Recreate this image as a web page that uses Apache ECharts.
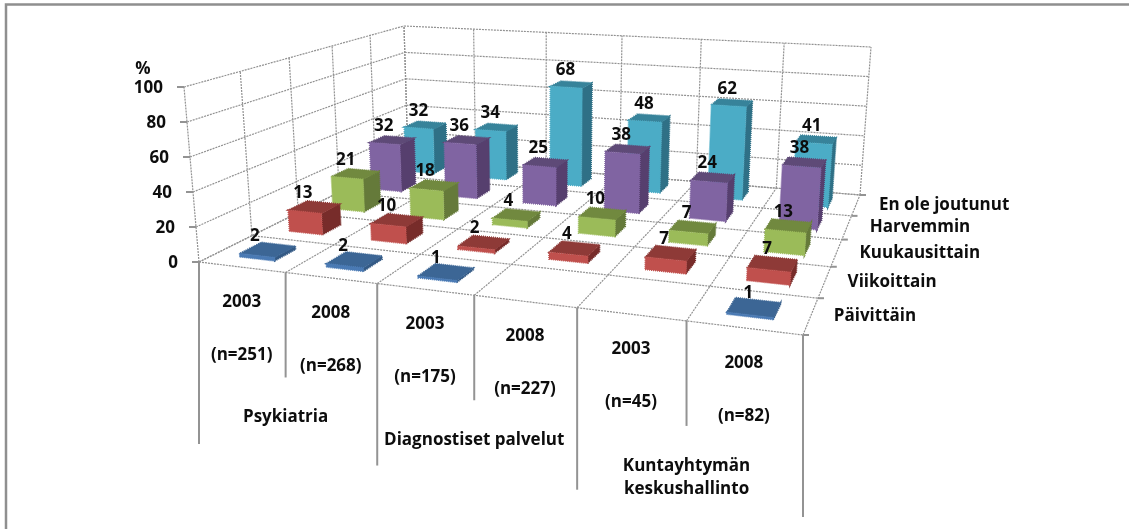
<!DOCTYPE html>
<html>
<head>
<meta charset="utf-8">
<style>html,body{margin:0;padding:0;background:#fff}#c{width:1129px;height:529px}</style>
<script src="https://cdn.jsdelivr.net/npm/echarts@6/dist/echarts.min.js"></script>
</head>
<body>
<div id="c"></div>
<script>
// Chart data: rows run front to back, columns left to right.
const rowNames = ['Päivittäin', 'Viikoittain', 'Kuukausittain', 'Harvemmin', 'En ole joutunut'];
const years = ['2003', '2008', '2003', '2008', '2003', '2008'];
const sampleSizes = ['(n=251)', '(n=268)', '(n=175)', '(n=227)', '(n=45)', '(n=82)'];
const departments = [['Psykiatria'], ['Diagnostiset palvelut'], ['Kuntayhtymän', 'keskushallinto']];
const valueTicks = [0, 20, 40, 60, 80, 100];
const paivittain = [2, 2, 1, null, null, 1];
const viikoittain = [13, 10, 2, 4, 7, 7];
const kuukausittain = [21, 18, 4, 10, 7, 13];
const harvemmin = [32, 36, 25, 38, 24, 38];
const enOleJoutunut = [32, 34, 68, 48, 62, 41];
const rowValues = [paivittain, viikoittain, kuukausittain, harvemmin, enOleJoutunut];

// Face colours for each row: front, top, right side.
const faces = [
  ['#4a7ab4', '#3c6695', '#345a85'],
  ['#c0504d', '#8e3a37', '#772c2a'],
  ['#9bbb59', '#71893f', '#657a3a'],
  ['#8064a2', '#5e4a77', '#563f6e'],
  ['#4bacc6', '#37839a', '#2f7086']
];

const COLS = years.length, ROWS = rowNames.length, YMAX = 100;
const BAR_W = 0.41, BAR_D = 0.42;
const GRID = { left: 0, top: 0, width: 600, height: 400 };

// Perspective box: corner positions of the floor and ceiling planes.
function quad(p0, p1, p2, p3) {
  const dx1 = p1[0] - p2[0], dx2 = p3[0] - p2[0], sx = p0[0] - p1[0] + p2[0] - p3[0];
  const dy1 = p1[1] - p2[1], dy2 = p3[1] - p2[1], sy = p0[1] - p1[1] + p2[1] - p3[1];
  const den = dx1 * dy2 - dx2 * dy1;
  const g = (sx * dy2 - dx2 * sy) / den, h = (dx1 * sy - sx * dy1) / den;
  const a = p1[0] - p0[0] + g * p1[0], b = p3[0] - p0[0] + h * p3[0];
  const d = p1[1] - p0[1] + g * p1[1], e = p3[1] - p0[1] + h * p3[1];
  return (u, v) => {
    const q = g * u + h * v + 1;
    return [(a * u + b * v + p0[0]) / q, (d * u + e * v + p0[1]) / q];
  };
}
const floorPlane = quad([199, 262], [803, 335], [860, 195], [408, 158]);
const ceilPlane = quad([184, 87], [816, 130], [871, 47], [404, 26]);
function project(u, v, w) {
  const a = floorPlane(u, v), b = ceilPlane(u, v);
  return [a[0] + (b[0] - a[0]) * w, a[1] + (b[1] - a[1]) * w];
}
// The hidden cartesian axes supply the column and value scales.
function scaled(api, col, value) {
  const c = api.coord([col, value]);
  return [(c[0] - GRID.left) / GRID.width, (GRID.top + GRID.height - c[1]) / GRID.height];
}

const FONT = 'bold 17px "Open Sans"';
const GRIDLINE = { stroke: '#929292', lineWidth: 1.2, lineDash: [2, 1], fill: null };
const AXISLINE = { stroke: '#939393', lineWidth: 2, fill: null };

function line(a, b, style) {
  return { type: 'line', shape: { x1: a[0], y1: a[1], x2: b[0], y2: b[1] }, style };
}
function text(str, x, y, align) {
  return { type: 'text', style: { text: str, x, y, font: FONT, fill: '#0d0d0d', align: align || 'center', verticalAlign: 'middle' } };
}

function renderFrame(params, api) {
  const kids = [];
  // Left and back walls: value gridlines.
  valueTicks.forEach(t => {
    const w = scaled(api, 0, t)[1];
    kids.push(line(project(0, 0, w), project(0, 1, w), GRIDLINE));
    kids.push(line(project(0, 1, w), project(1, 1, w), GRIDLINE));
    const e = project(0, 0, w);
    kids.push(line([e[0] - 7, e[1]], e, AXISLINE));
    kids.push(text(String(t), e[0] - 21, e[1] + 1, 'right'));
  });
  const top = project(0, 0, 1);
  kids.push(text('%', top[0] - 41, top[1] - 18));
  // Uprights on the left wall and the floor's depth divisions.
  for (let r = 0; r <= ROWS; r++) {
    const v = r / ROWS;
    kids.push(line(project(0, v, 0), project(0, v, 1), GRIDLINE));
    kids.push(line(project(0, v, 0), project(1, v, 0), GRIDLINE));
    const e = project(1, v, 0);
    kids.push(line(e, [e[0] + 6, e[1]], AXISLINE));
    if (r < ROWS) {
      const m = project(1, (r + 0.5) / ROWS, 0);
      kids.push(text(rowNames[r], m[0] + 23, m[1], 'left'));
    }
  }
  // Uprights on the back wall, floor columns, and the category dividers.
  for (let c = 0; c <= COLS; c++) {
    const u = scaled(api, c, 0)[0];
    kids.push(line(project(u, 1, 0), project(u, 1, 1), GRIDLINE));
    kids.push(line(project(u, 0, 0), project(u, 1, 0), GRIDLINE));
    const e = project(u, 0, 0);
    kids.push(line(e, [e[0], e[1] + (c % 2 ? 105 : 182)], AXISLINE));
  }
  // Multi-level category labels under the front edge.
  years.forEach((y, c) => {
    const e = project(scaled(api, c + 0.5, 0)[0], 0, 0);
    kids.push(text(y, e[0], e[1] + 35));
    kids.push(text(sampleSizes[c], e[0], e[1] + 88));
  });
  departments.forEach((lines, i) => {
    const e = project(scaled(api, i * 2 + 1, 0)[0], 0, 0);
    lines.forEach((s, k) => kids.push(text(s, e[0], e[1] + 145 + k * 23)));
  });
  return { type: 'group', children: kids };
}

function renderBar(params, api) {
  const col = api.value(0), value = api.value(1), row = api.value(2);
  const [u0] = scaled(api, col + (1 - BAR_W) / 2, 0);
  const [u1] = scaled(api, col + (1 + BAR_W) / 2, 0);
  const w = scaled(api, 0, value)[1];
  const v0 = (row + (1 - BAR_D) / 2) / ROWS, v1 = (row + (1 + BAR_D) / 2) / ROWS;
  const [front, topFace, side] = faces[row];
  const poly = (pts, fill) => ({
    type: 'polygon', shape: { points: pts },
    style: { fill, stroke: fill, lineWidth: 1.5, lineDash: [1, 1] }
  });
  return {
    type: 'group', children: [
      poly([project(u1, v0, 0), project(u1, v1, 0), project(u1, v1, w), project(u1, v0, w)], side),
      poly([project(u0, v0, w), project(u1, v0, w), project(u1, v1, w), project(u0, v1, w)], topFace),
      poly([project(u0, v0, 0), project(u1, v0, 0), project(u1, v0, w), project(u0, v0, w)], front)
    ]
  };
}

function renderValueLabel(params, api) {
  const col = api.value(0), value = api.value(1), row = api.value(2);
  const u = scaled(api, col + 0.5, 0)[0];
  const w = scaled(api, 0, value)[1];
  const p = project(u, (row + 0.5) / ROWS, w);
  return text(String(value), p[0] - 13.5 + 8.5 * u + row * (1.6 - 1.4 * u), p[1] - 14);
}

// Bars paint back row first so nearer rows overlap farther ones.
const barSeries = [];
for (let r = ROWS - 1; r >= 0; r--) {
  barSeries.push({
    type: 'custom', name: rowNames[r], coordinateSystem: 'cartesian2d', silent: true, animation: false, clip: false,
    renderItem: renderBar,
    encode: { x: 0, y: 1 },
    data: rowValues[r].map((val, c) => [c, val, r]).filter(d => d[1] !== null),
    z: 3
  });
}
const labelData = [];
rowValues.forEach((vals, r) => vals.forEach((val, c) => { if (val !== null) labelData.push([c, val, r]); }));

const chart = echarts.init(document.getElementById('c'));
chart.setOption({
  animation: false,
  backgroundColor: '#fff',
  grid: Object.assign({ show: false, containLabel: false }, GRID),
  xAxis: { type: 'value', min: 0, max: COLS, show: false },
  yAxis: { type: 'value', min: 0, max: YMAX, show: false },
  graphic: [{
    type: 'polyline', silent: true, z: 1,
    shape: { points: [[6, 529], [6, 4.5], [1129, 4.5]] },
    style: { stroke: '#8f8f8f', lineWidth: 2.5, fill: null }
  }],
  series: [{
    type: 'custom', coordinateSystem: 'cartesian2d', silent: true, animation: false, clip: false,
    renderItem: renderFrame, encode: { x: 0, y: 1 }, data: [[0, 0]], z: 2
  }].concat(barSeries, [{
    type: 'custom', coordinateSystem: 'cartesian2d', silent: true, animation: false, clip: false,
    renderItem: renderValueLabel, encode: { x: 0, y: 1 }, data: labelData, z: 4
  }])
});
</script>
</body>
</html>
